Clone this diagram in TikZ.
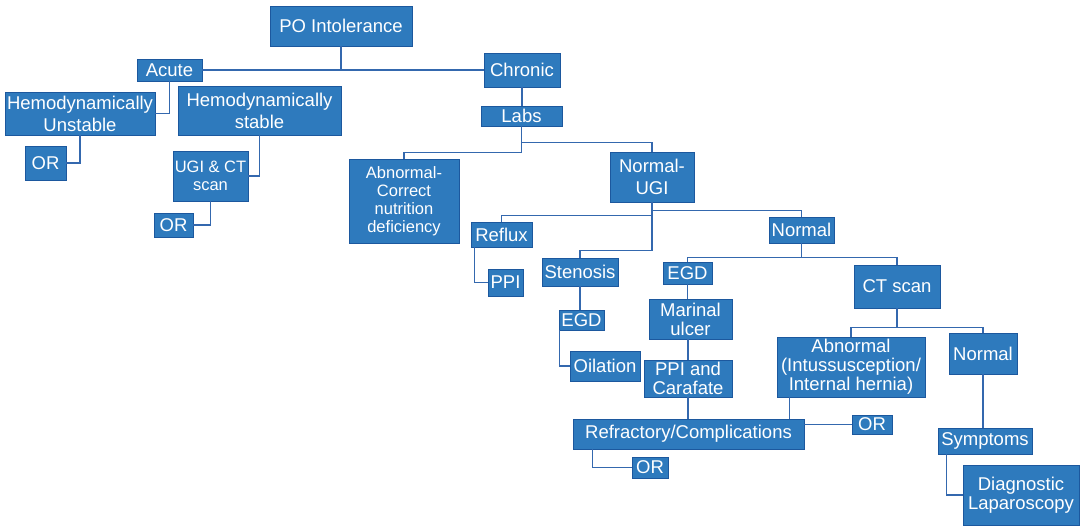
\documentclass[tikz,border=0pt]{standalone}
\usepackage{fontspec}
\setmainfont{Liberation Sans}
\usepackage{xcolor}
\usetikzlibrary{calc}

\definecolor{boxblue}{RGB}{46,122,189}
\definecolor{edgeblue}{RGB}{28,88,158}
\definecolor{lineblue}{RGB}{52,104,174}

\tikzset{
   box/.style={draw=edgeblue, line width=0.9pt, fill=boxblue, text=white,
      inner sep=0pt, align=center, font=\fontsize{18.5}{19}\selectfont},
   small/.style={font=\fontsize{16.5}{18}\selectfont},
   link/.style={draw=lineblue, line width=1.3pt}
}

\begin{document}
\begin{tikzpicture}[x=1pt,y=-1pt]
   \useasboundingbox (0,0) rectangle (1080,526);
   % acute branch
   \node[box, minimum width=142pt, minimum height=40pt] (po) at (341,26) {PO Intolerance};
   \node[box, minimum width=65pt, minimum height=22pt] (acute) at (169.5,70) {Acute};
   \node[box, minimum width=150pt, minimum height=43pt] (hemoU) at (80,113.5) {Hemodynamically\\[3pt]Unstable};
   \node[box, minimum width=163pt, minimum height=49pt] (hemoS) at (259.5,110.5) {Hemodynamically\\[3pt]stable};
   \node[box, minimum width=41pt, minimum height=34pt] (orU) at (45.5,163) {OR};
   \node[box, small, minimum width=75pt, minimum height=50pt] (ugiCT) at (210.5,176) {UGI \& CT\\scan};
   \node[box, minimum width=39pt, minimum height=24pt] (orS) at (173.5,225) {OR};
   % chronic branch
   \node[box, minimum width=76pt, minimum height=34pt] (chronic) at (522,70) {Chronic};
   \node[box, minimum width=81pt, minimum height=20pt] (labs) at (521.5,116) {Labs};
   \node[box, small, minimum width=110pt, minimum height=84pt] (abnLab) at (404,201) {Abnormal-\\Correct\\nutrition\\deficiency};
   \node[box, minimum width=84pt, minimum height=50pt] (normUGI) at (652,177) {Normal-\\[3pt]UGI};
   \node[box, minimum width=61pt, minimum height=25pt] (reflux) at (501.5,234.5) {Reflux};
   \node[box, minimum width=35pt, minimum height=27pt] (ppiR) at (505.5,282.5) {PPI};
   \node[box, minimum width=76pt, minimum height=28pt] (stenosis) at (580,272) {Stenosis};
   \node[box, minimum width=45pt, minimum height=20pt] (egdS) at (581.5,320) {EGD};
   \node[box, minimum width=70pt, minimum height=30pt] (oilation) at (605,366) {Oilation};
   \node[box, minimum width=65pt, minimum height=26pt] (normal) at (801.5,230) {Normal};
   \node[box, minimum width=49pt, minimum height=22pt] (egdN) at (687.5,273) {EGD};
   \node[box, minimum width=83pt, minimum height=40pt] (ulcer) at (690.5,319) {Marinal\\ulcer};
   \node[box, minimum width=88pt, minimum height=37pt] (ppiC) at (688,378.5) {PPI and\\Carafate};
   \node[box, minimum width=231pt, minimum height=30pt] (refract) at (688.5,434) {Refractory/Complications};
   \node[box, minimum width=36pt, minimum height=21pt] (orRef) at (650,467.5) {OR};
   \node[box, minimum width=86pt, minimum height=43pt] (ctScan) at (897,286.5) {CT scan};
   \node[box, minimum width=148pt, minimum height=60pt] (abnCT) at (851,367) {Abnormal\\(Intussusception/\\Internal hernia)};
   \node[box, minimum width=40pt, minimum height=19pt] (orCT) at (872,424.5) {OR};
   \node[box, minimum width=68pt, minimum height=41pt] (normCT) at (983,353.5) {Normal};
   \node[box, minimum width=94pt, minimum height=26pt] (symptoms) at (985,441) {Symptoms};
   \node[box, minimum width=116pt, minimum height=60pt] (diagLap) at (1021,495) {Diagnostic\\Laparoscopy};

   \draw[link] (po.south) -- (po.south |- acute.east);
   \draw[link] (acute.east) -- (chronic.west);
   \draw[link] (acute.south) |- (hemoU.east);
   \draw[link] (hemoU.south) |- (orU.east);
   \draw[link] (hemoS.south) |- (ugiCT.east);
   \draw[link] (ugiCT.south) |- (orS.east);
   \draw[link] (chronic.south) -- (chronic.south |- labs.north);
   \draw[link] (labs.south) |- ([yshift=6pt]abnLab.north) -- (abnLab.north);
   \draw[link] (labs.south) |- ([yshift=9pt]normUGI.north) -- (normUGI.north);
   \draw[link] (normUGI.south) |- ([yshift=6pt]reflux.north) -- (reflux.north);
   \draw[link] (normUGI.south) |- ([yshift=7pt]stenosis.north) -- (stenosis.north);
   \draw[link] (normUGI.south) |- ([yshift=6pt]normal.north) -- (normal.north);
   \draw[link] ([xshift=4pt]reflux.south west) |- (ppiR.west);
   \draw[link] (stenosis.south) -- (stenosis.south |- egdS.north);
   \draw[link] ([xshift=1pt]egdS.south west) |- (oilation.west);
   \draw[link] (normal.south) |- ([yshift=4pt]egdN.north) -- (egdN.north);
   \draw[link] (normal.south) |- ([yshift=7pt]ctScan.north) -- (ctScan.north);
   \draw[link] (egdN.south) -- (egdN.south |- ulcer.north);
   \draw[link] (ppiC.north |- ulcer.south) -- (ppiC.north);
   \draw[link] (ppiC.south) -- (ppiC.south |- refract.north);
   \draw[link] ([xshift=20pt]refract.south west) |- (orRef.west);
   \draw[link] (ctScan.south) |- ([yshift=9pt]abnCT.north) -- (abnCT.north);
   \draw[link] (ctScan.south) |- ([yshift=5pt]normCT.north) -- (normCT.north);
   \draw[link] ([xshift=13pt]abnCT.south west) -- ([xshift=13pt]abnCT.south west |- refract.north);
   \draw[link] (orCT.west) -- (orCT.west -| refract.east);
   \draw[link] (normCT.south) -- (normCT.south |- symptoms.north);
   \draw[link] ([xshift=9pt]symptoms.south west) |- (diagLap.west);
\end{tikzpicture}
\end{document}
